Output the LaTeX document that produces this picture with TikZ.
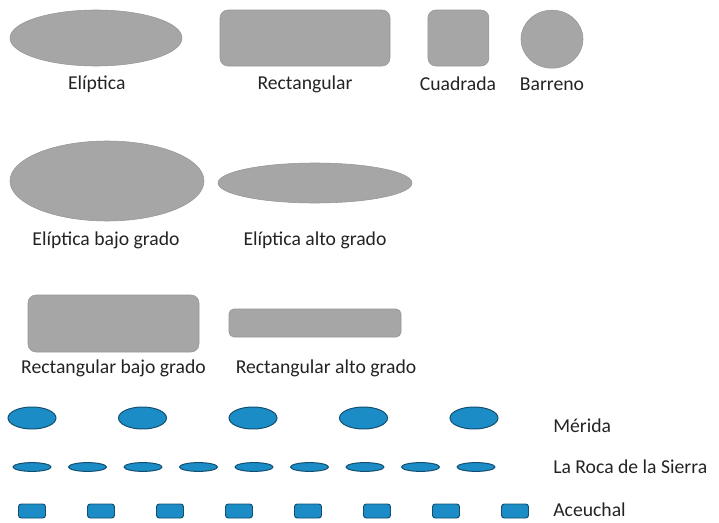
\documentclass[tikz,border=0pt]{standalone}
\usepackage{fontspec}
\setmainfont{Carlito}
\usetikzlibrary{shapes.geometric,positioning}
\definecolor{grisforma}{RGB}{166,166,166}
\definecolor{grisborde}{RGB}{150,150,150}
\definecolor{azulforma}{RGB}{28,140,198}
\definecolor{azulborde}{RGB}{18,78,112}
\definecolor{texto}{RGB}{35,35,35}
\tikzset{
  gris/.style={fill=grisforma, draw=grisborde, line width=0.4pt},
  elip/.style={gris, ellipse, inner sep=0pt},
  rect/.style={gris, rectangle, rounded corners=0.2cm, inner sep=0pt},
  azul/.style={fill=azulforma, draw=azulborde, line width=0.7pt, inner sep=0pt},
  etiqueta/.style={font=\fontsize{14}{16}\selectfont, text=texto, inner sep=0pt}
}
\begin{document}
\begin{tikzpicture}
  \useasboundingbox (0,0) rectangle (17.975,-13.075);
  % formas de la fila superior
  \node[elip, minimum width=4.3cm, minimum height=1.4cm] (eliptica) at (2.4,-0.95) {};
  \node[rect, minimum width=4.25cm, minimum height=1.4cm] (rectangular) at (7.625,-0.95) {};
  \node[rect, minimum width=1.525cm, minimum height=1.4cm] (cuadrada) at (11.46,-0.95) {};
  \node[elip, minimum width=1.55cm, minimum height=1.45cm] (barreno) at (13.8,-0.98) {};
  \node[etiqueta] (leliptica) at (2.42,-2.1) {Elíptica};
  \node[etiqueta] (lrectangular) at (7.625,-2.1) {Rectangular};
  \node[etiqueta] (lcuadrada) at (11.45,-2.1) {Cuadrada};
  \node[etiqueta] (lbarreno) at (13.8,-2.1) {Barreno};
  % elipticas
  \node[elip, minimum width=4.85cm, minimum height=2.0cm] (elipbajo) at (2.675,-4.525) {};
  \node[elip, minimum width=4.85cm, minimum height=1.0cm] (elipalto) at (7.875,-4.575) {};
  \node[etiqueta] (lelipbajo) at (2.65,-6.0) {Elíptica bajo grado};
  \node[etiqueta] (lelipalto) at (7.875,-6.0) {Elíptica alto grado};
  % rectangulares
  \node[rect, minimum width=4.275cm, minimum height=1.425cm] (rectbajo) at (2.8375,-8.0875) {};
  \node[rect, minimum width=4.3cm, minimum height=0.7cm, rounded corners=0.12cm] (rectalto) at (7.875,-8.075) {};
  \node[etiqueta] (lrectbajo) at (2.8375,-9.2) {Rectangular bajo grado};
  \node[etiqueta] (lrectalto) at (8.15,-9.2) {Rectangular alto grado};
  % canteras
  \foreach \i in {0,...,4}
    \node[azul, ellipse, minimum width=1.2cm, minimum height=0.55cm] (merida\i) at (0.8+2.7625*\i,-10.45) {};
  \foreach \i in {0,...,8}
    \node[azul, ellipse, minimum width=0.95cm, minimum height=0.22cm] (roca\i) at (0.8+1.3875*\i,-11.675) {};
  \foreach \i in {0,...,7}
    \node[azul, rectangle, rounded corners=0.07cm, minimum width=0.675cm, minimum height=0.35cm] (aceuchal\i) at (0.8+1.725*\i,-12.775) {};
  \node[etiqueta, anchor=west] (lmerida) at (13.825,-10.65) {Mérida};
  \node[etiqueta, anchor=west] (lroca) at (13.825,-11.675) {La Roca de la Sierra};
  \node[etiqueta, anchor=west] (laceuchal) at (13.825,-12.75) {Aceuchal};
\end{tikzpicture}
\end{document}
